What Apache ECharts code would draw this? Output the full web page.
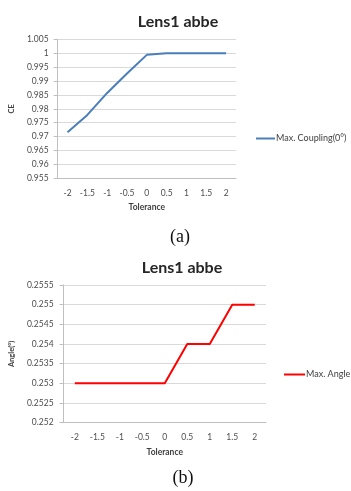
<!DOCTYPE html>
<html>
<head>
<meta charset="utf-8">
<script src="https://cdn.jsdelivr.net/npm/echarts@6/dist/echarts.min.js"></script>
<style>
  html, body { margin: 0; padding: 0; background: #fff; }
  #chart { width: 351px; height: 491px; }
</style>
</head>
<body>
<div id="chart"></div>
<script>
// Tolerance steps shared by both panels
const tolerance = ['-2', '-1.5', '-1', '-0.5', '0', '0.5', '1', '1.5', '2'];

// Panel (a): coupling efficiency
const couplingCE = [0.9716, 0.9778, 0.9857, 0.9927, 0.9994, 0.99995, 1.0, 1.0, 1.0];
const ceTicks = { min: 0.955, max: 1.005, step: 0.005 };

// Panel (b): maximum angle
const maxAngle = [0.253, 0.253, 0.253, 0.253, 0.253, 0.254, 0.254, 0.255, 0.255];
const angleTicks = { min: 0.252, max: 0.2555, step: 0.0005 };

const FONT = 'Lato, "Open Sans", sans-serif';
const gridColor = '#d9d9d9';
const labelColor = '#4d4d4d';

function fmt(v) { return String(parseFloat(v.toFixed(5))); }

function xAxisFor(gridIndex, nameGap) {
  return {
    type: 'category', gridIndex, data: tolerance, boundaryGap: true,
    name: 'Tolerance', nameLocation: 'middle', nameGap,
    nameTextStyle: { fontFamily: FONT, fontSize: 8.5, fontWeight: 'bold', color: '#404040' },
    axisLine: { lineStyle: { color: '#bfbfbf' } },
    axisTick: { show: false },
    axisLabel: { fontFamily: FONT, fontSize: 8.5, color: labelColor, margin: 10 }
  };
}

function yAxisFor(gridIndex, ticks, name, nameGap, margin) {
  return {
    type: 'value', gridIndex, min: ticks.min, max: ticks.max, interval: ticks.step,
    name, nameLocation: 'middle', nameGap, nameRotate: 90,
    nameTextStyle: { fontFamily: FONT, fontSize: 7.5, fontWeight: 'bold', color: '#404040' },
    axisLine: { show: true, lineStyle: { color: '#bfbfbf' } },
    axisTick: { show: true, length: 4, lineStyle: { color: '#bfbfbf' } },
    splitLine: { lineStyle: { color: gridColor, width: 1.2 } },
    axisLabel: { fontFamily: FONT, fontSize: 8.5, color: labelColor, margin, formatter: fmt }
  };
}

const chart = echarts.init(document.getElementById('chart'), null, { renderer: 'canvas' });
chart.setOption({
  animation: false,
  backgroundColor: '#fff',
  title: [
    { text: 'Lens1 abbe', left: 173, top: 9, textAlign: 'center',
      textStyle: { fontFamily: FONT, fontSize: 16, fontWeight: 'bold', color: '#262626' } },
    { text: 'Lens1 abbe', left: 177, top: 255, textAlign: 'center',
      textStyle: { fontFamily: FONT, fontSize: 16, fontWeight: 'bold', color: '#262626' } },
    { text: '(a)', left: 175, top: 223, textAlign: 'center',
      textStyle: { fontFamily: '"Liberation Serif", "DejaVu Serif", serif', fontSize: 18, fontWeight: 'normal', color: '#111' } },
    { text: '(b)', left: 178, top: 464, textAlign: 'center',
      textStyle: { fontFamily: '"Liberation Serif", "DejaVu Serif", serif', fontSize: 18, fontWeight: 'normal', color: '#111' } }
  ],
  legend: [
    { data: ['Max. Coupling(0°)'], left: 251, top: 129, orient: 'vertical',
      icon: 'rect', itemWidth: 19, itemHeight: 2, itemGap: 0,
      textStyle: { fontFamily: FONT, fontSize: 9, color: '#404040', padding: [0, 0, 0, -4] } },
    { data: ['Max. Angle'], left: 279, top: 365, orient: 'vertical',
      icon: 'rect', itemWidth: 21, itemHeight: 2, itemGap: 0,
      textStyle: { fontFamily: FONT, fontSize: 9, color: '#404040', padding: [0, 0, 0, -4] } }
  ],
  grid: [
    { left: 52, top: 39.3, width: 184, height: 139, containLabel: false },
    { left: 57, top: 285, width: 209, height: 137.7, containLabel: false }
  ],
  xAxis: [xAxisFor(0, 24), xAxisFor(1, 25)],
  yAxis: [yAxisFor(0, ceTicks, 'CE', 40, 9), yAxisFor(1, angleTicks, 'Angle(°)', 45, 10)],
  series: [
    { name: 'Max. Coupling(0°)', type: 'line', xAxisIndex: 0, yAxisIndex: 0,
      data: couplingCE, symbol: 'none', color: '#4a7ebb',
      lineStyle: { width: 2, color: '#4a7ebb' } },
    { name: 'Max. Angle', type: 'line', xAxisIndex: 1, yAxisIndex: 1,
      data: maxAngle, symbol: 'none', color: '#ff0000',
      lineStyle: { width: 2, color: '#ff0000' } }
  ]
});
</script>
</body>
</html>
